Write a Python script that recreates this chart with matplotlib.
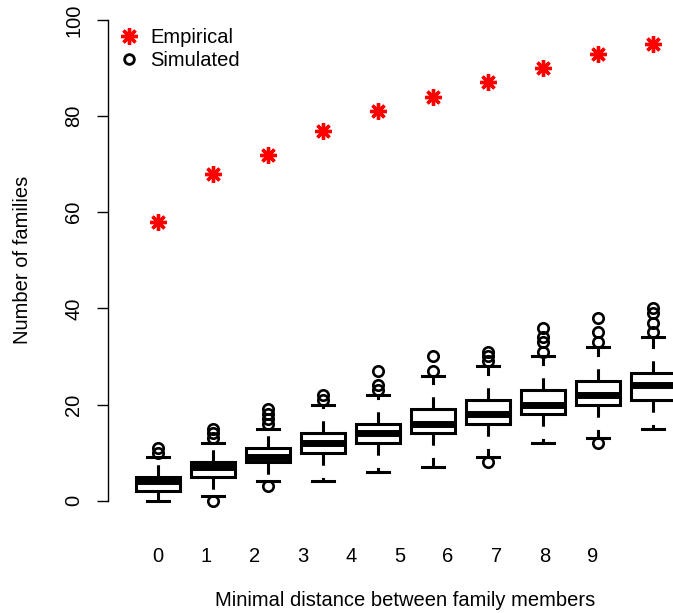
import matplotlib
matplotlib.use("Agg")
import matplotlib.pyplot as plt
from matplotlib.lines import Line2D

plt.rcParams['font.family'] = ['Liberation Sans', 'DejaVu Sans']

# minimal distance between family members
distances = [0, 1, 2, 3, 4, 5, 6, 7, 8, 9]
tick_labels = [str(d) for d in distances]

# empirical number of families at each distance
empirical = [58, 68, 72, 77, 81, 84, 87, 90, 93, 95]

# summaries of the simulated counts
sim_low = [0, 1, 4, 4, 6, 7, 9, 12, 13, 15]
sim_q1 = [2, 5, 8, 10, 12, 14, 16, 18, 20, 21]
sim_med = [4, 7, 9, 12, 14, 16, 18, 20, 22, 24]
sim_q3 = [5, 8, 11, 14, 16, 19, 21, 23, 25, 26.5]
sim_high = [9, 12, 15, 20, 22, 26, 28, 30, 32, 34]
sim_out = [
    [10, 11],
    [0, 13, 14, 15],
    [3, 16, 17, 18, 19],
    [21, 22],
    [23, 24, 27],
    [27, 30],
    [8, 29, 30, 31],
    [31, 33, 34, 36],
    [12, 33, 35, 38],
    [35, 37, 39, 40],
]

stats = []
for i in range(len(distances)):
    stats.append(dict(whislo=sim_low[i], q1=sim_q1[i], med=sim_med[i],
                      q3=sim_q3[i], whishi=sim_high[i], fliers=sim_out[i]))

W, H = 673, 613
fig = plt.figure(figsize=(W / 100, H / 100), dpi=100)

# axes placed so the y axis sits at x=108px and spans 0..100 from 501px to 20px
ylo, yhi = -5, 102
px_per_unit = (500.7 - 20) / 100
bottom_px = 500.7 + (0 - ylo) * px_per_unit
top_px = 20 - (yhi - 100) * px_per_unit
ax = fig.add_axes([108 / W, (H - bottom_px) / H, (W - 108) / W, (bottom_px - top_px) / H])

pos = list(range(len(distances)))
lw = 2.2
ax.bxp(stats, positions=pos, widths=0.8, capwidths=0.4, patch_artist=True,
       boxprops=dict(facecolor='white', edgecolor='black', linewidth=lw),
       medianprops=dict(color='black', linewidth=5, solid_capstyle='butt'),
       whiskerprops=dict(color='black', linewidth=lw, linestyle=(0, (4, 4))),
       capprops=dict(color='black', linewidth=lw),
       flierprops=dict(marker='o', markerfacecolor='none', markeredgecolor='black',
                       markersize=7.5, markeredgewidth=1.9))

star = (8, 2, 0)
ax.plot(pos, empirical, linestyle='none', marker=star, color='red',
        markersize=12, markeredgewidth=2.4, clip_on=False)

ax.set_xlim((108 - 157.5) / 55, (W - 157.5) / 55)
ax.set_ylim(ylo, yhi)

for side in ['top', 'right', 'bottom']:
    ax.spines[side].set_visible(False)
ax.spines['left'].set_bounds(0, 100)
ax.spines['left'].set_linewidth(1.0)

ax.set_yticks([0, 20, 40, 60, 80, 100])
ax.set_yticklabels(['0', '20', '40', '60', '80', '100'], rotation=90, va='center')
ax.tick_params(axis='y', length=8, width=1.0, pad=10, labelsize=14.5)

# category labels sit on a slightly tighter spacing than the boxes
ax.set_xticks([p * 0.88 for p in pos])
ax.set_xticklabels(tick_labels)
ax.tick_params(axis='x', length=0, pad=16, labelsize=14.5)

ax.set_ylabel('Number of families', fontsize=14.5)
ax.yaxis.set_label_coords((22 - 108) / (W - 108), (50 - ylo) / (yhi - ylo))
ax.yaxis.label.set_va('center')
ax.set_xlabel('Minimal distance between family members', fontsize=14.5)
ax.xaxis.set_label_coords((405 - 108) / (W - 108), (bottom_px - 600) / (bottom_px - top_px))
ax.xaxis.label.set_va('center')

handles = [
    Line2D([], [], linestyle='none', marker=star, color='red', markersize=12, markeredgewidth=2.4),
    Line2D([], [], linestyle='none', marker='o', markerfacecolor='none', markeredgecolor='black',
           markersize=7, markeredgewidth=2),
]
ax.legend(handles, ['Empirical', 'Simulated'], loc='upper left',
          bbox_to_anchor=(0.02, 0.965), frameon=False, fontsize=14.5,
          handlelength=1.0, handletextpad=0.55, borderpad=0, borderaxespad=0,
          labelspacing=0.2)

fig.savefig('out.png', dpi=100)
